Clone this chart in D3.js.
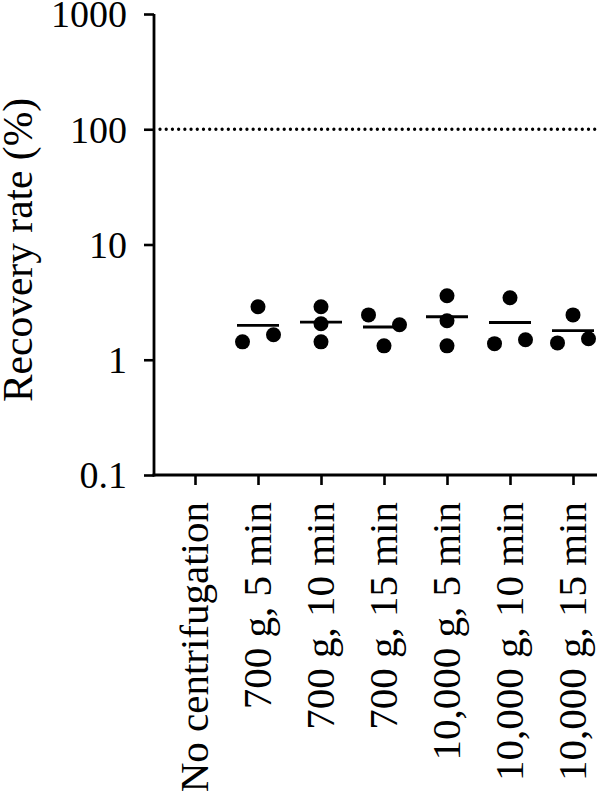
<!DOCTYPE html>
<html>
<head>
<meta charset="utf-8">
<script src="https://cdn.jsdelivr.net/npm/d3@7"></script>
<style>
  html, body { margin: 0; padding: 0; background: #fff; }
  svg { display: block; }
</style>
</head>
<body>
<svg id="chart" width="600" height="803" font-family="Liberation Serif"></svg>
<script>
// ---- data ----
const categories = [
  "No centrifugation",
  "700 g, 5 min",
  "700 g, 10 min",
  "700 g, 15 min",
  "10,000 g, 5 min",
  "10,000 g, 10 min",
  "10,000 g, 15 min"
];
const replicate1 = [null, 1.43, 2.88, 2.45, 3.59, 1.38, 1.40];
const replicate2 = [null, 2.88, 2.05, 1.32, 2.18, 3.45, 2.45];
const replicate3 = [null, 1.65, 1.43, 2.01, 1.32, 1.49, 1.52];
const referenceValue = 100;
const yTicks = [0.1, 1, 10, 100, 1000];
const yTickLabels = ["0.1", "1", "10", "100", "1000"];
const yLabel = "Recovery rate (%)";

// ---- layout ----
const FONT = "Liberation Serif";
const svg = d3.select("#chart");
const margin = { left: 154, top: 14, right: 3, bottom: 328 };
const W = 600, H = 803;
const plotW = W - margin.left - margin.right;
const plotH = H - margin.top - margin.bottom;

const y = d3.scaleLog().domain([0.1, 1000]).range([plotH, 0]);
const x = d3.scalePoint().domain(categories).range([41, 419]);

const g = svg.append("g").attr("transform", `translate(${margin.left},${margin.top})`);

// y axis
const yAxis = g.append("g")
  .call(d3.axisLeft(y).tickValues(yTicks).tickFormat((d, i) => yTickLabels[i]).tickSize(10).tickPadding(17));
yAxis.attr("font-family", FONT).attr("font-size", 38);
yAxis.select(".domain").attr("stroke", "#000").attr("stroke-width", 2.8)
  .attr("d", `M0,${plotH + 1.4}V0`);
yAxis.selectAll(".tick line").attr("stroke", "#000").attr("stroke-width", 2.6);
yAxis.selectAll(".tick text").attr("font-family", FONT).attr("font-size", 38).attr("dy", "0.34em");

// x axis
const xAxis = g.append("g").attr("transform", `translate(0,${plotH})`)
  .call(d3.axisBottom(x).tickSize(10).tickSizeOuter(0).tickFormat(""));
xAxis.attr("font-family", FONT);
xAxis.select(".domain").attr("stroke", "#000").attr("stroke-width", 2.8)
  .attr("d", `M-1.4,0H${plotW}`);
xAxis.selectAll(".tick line").attr("stroke", "#000").attr("stroke-width", 2.6);
xAxis.selectAll(".tick").append("text")
  .attr("transform", "rotate(-90)")
  .attr("x", -27)
  .attr("y", 0)
  .attr("dy", "0.293em")
  .attr("text-anchor", "end")
  .attr("font-family", FONT)
  .attr("font-size", 41)
  .attr("fill", "#000")
  .text(d => d);

// y label
svg.append("text")
  .attr("transform", `translate(32,${margin.top + plotH / 2 + 5.5}) rotate(-90)`)
  .attr("text-anchor", "middle")
  .attr("font-family", FONT)
  .attr("font-size", 41.5)
  .attr("fill", "#000")
  .text(yLabel);

// reference dotted line
g.append("line")
  .attr("x1", 6).attr("x2", plotW)
  .attr("y1", y(referenceValue)).attr("y2", y(referenceValue))
  .attr("stroke", "#000").attr("stroke-width", 3.3)
  .attr("stroke-linecap", "round")
  .attr("stroke-dasharray", "0.01,6.2");

// points with Prism-like row spreading
const r = 7.5;
const spread = 15.5;
categories.forEach((c, i) => {
  const vals = [replicate1[i], replicate2[i], replicate3[i]].filter(v => v != null);
  if (!vals.length) return;
  const pts = vals.map((v, k) => ({ v, k, py: y(v) }));
  const sorted = pts.slice().sort((a, b) => a.py - b.py);
  const rows = [];
  sorted.forEach(p => {
    const last = rows[rows.length - 1];
    if (last && Math.abs(p.py - last[0].py) < 2 * r) last.push(p); else rows.push([p]);
  });
  rows.forEach(row => {
    row.sort((a, b) => a.k - b.k);
    const n = row.length;
    row.forEach((p, j) => { p.dx = n > 1 ? (j - (n - 1) / 2) * 2 * spread / (n - 1) : 0; });
  });
  g.selectAll(null).data(pts).enter().append("circle")
    .attr("cx", p => x(c) + p.dx)
    .attr("cy", p => p.py)
    .attr("r", r)
    .attr("fill", "#000");
  const mean = d3.mean(vals);
  g.append("line")
    .attr("x1", x(c) - 21).attr("x2", x(c) + 21)
    .attr("y1", y(mean)).attr("y2", y(mean))
    .attr("stroke", "#000").attr("stroke-width", 2.9);
});
</script>
</body>
</html>
